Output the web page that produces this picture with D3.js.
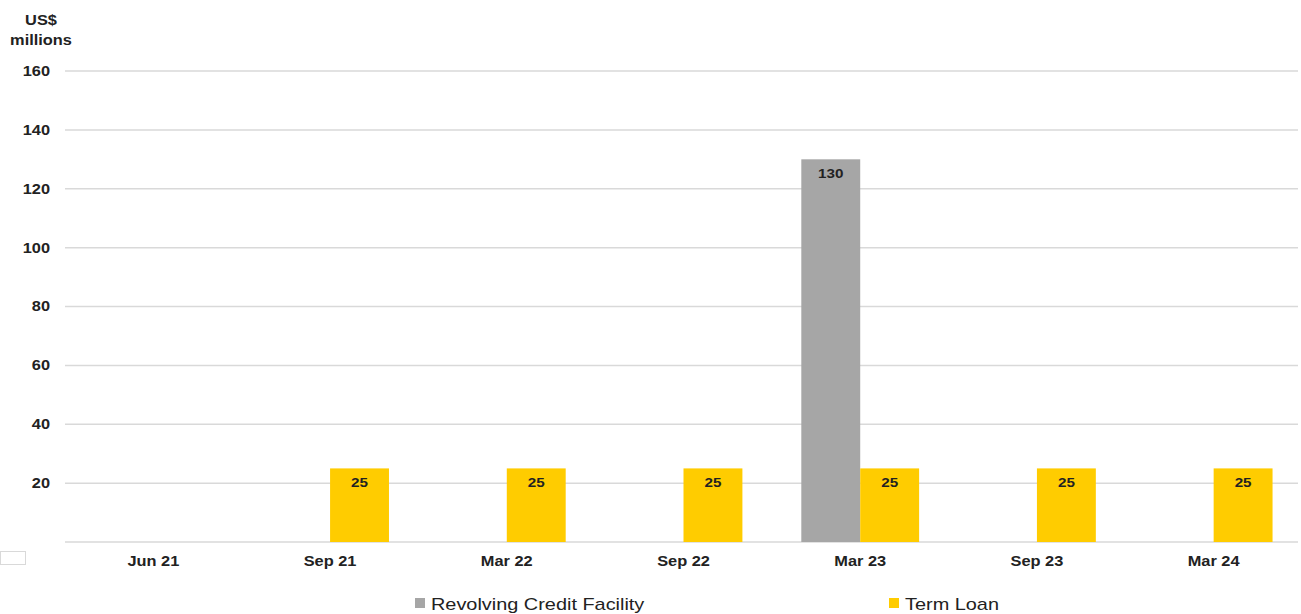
<!DOCTYPE html>
<html><head><meta charset="utf-8">
<script src="https://cdn.jsdelivr.net/npm/d3@7"></script>
<style>
body{margin:0;background:#fff;font-family:"Liberation Sans",Arial,sans-serif;}
</style></head><body>
<svg id="c" width="1301" height="614"></svg>
<script>
const categories = ["Jun 21","Sep 21","Mar 22","Sep 22","Mar 23","Sep 23","Mar 24"];
const seriesNames = ["Revolving Credit Facility","Term Loan"];
const revolving = [0,0,0,0,130,0,0];
const termLoan = [0,25,25,25,25,25,25];
const yTicks = [20,40,60,80,100,120,140,160];
const colors = ["#A6A6A6","#FFCC00"];

const SX = 1.17; // horizontal stretch of text seen in the reference
const svg = d3.select("#c");
const y = d3.scaleLinear().domain([0,160]).range([542,71]);
const x = d3.scaleBand().domain(categories).range([65,1302]);
const bw = x.bandwidth();
const x1 = d3.scaleBand().domain(seriesNames).range([bw/6, bw*5/6]);
const tf = (px,py)=>`translate(${px},${py}) scale(${SX},1)`;

// gridlines
svg.append("g").selectAll("line").data(yTicks.concat([0])).join("line")
  .attr("x1",65).attr("x2",1298)
  .attr("y1",d=>y(d)).attr("y2",d=>y(d))
  .attr("stroke","#D9D9D9").attr("stroke-width",1.5);

// y axis labels
svg.append("g").selectAll("text").data(yTicks).join("text")
  .attr("transform",d=>tf(50,y(d))).attr("dy","0.35em")
  .attr("text-anchor","end").attr("font-size",14).attr("font-weight","bold").attr("fill","#222")
  .text(d=>d);

svg.append("text").attr("transform",tf(41,25)).attr("text-anchor","middle")
  .attr("font-size",14).attr("font-weight","bold").attr("fill","#222").text("US$");
svg.append("text").attr("transform",tf(41,45)).attr("text-anchor","middle")
  .attr("font-size",14).attr("font-weight","bold").attr("fill","#222").text("millions");

// x labels
svg.append("g").selectAll("text").data(categories).join("text")
  .attr("transform",d=>tf(x(d)+bw/2,566)).attr("text-anchor","middle")
  .attr("font-size",14).attr("font-weight","bold").attr("fill","#222").text(d=>d);

const rows = [];
categories.forEach((c,i)=>{
  [revolving[i], termLoan[i]].forEach((v,j)=>{ if(v>0) rows.push({c, s:seriesNames[j], v, j}); });
});

svg.append("g").selectAll("rect").data(rows).join("rect")
  .attr("x",d=>x(d.c)+x1(d.s)).attr("width",x1.bandwidth())
  .attr("y",d=>y(d.v)).attr("height",d=>y(0)-y(d.v))
  .attr("fill",d=>colors[d.j]);

svg.append("g").selectAll("text").data(rows).join("text")
  .attr("transform",d=>tf(x(d.c)+x1(d.s)+x1.bandwidth()/2, y(d.v)+19))
  .attr("text-anchor","middle").attr("font-size",13).attr("font-weight","bold").attr("fill","#222")
  .text(d=>d.v);

// small artifact box
svg.append("rect").attr("x",0.5).attr("y",551.5).attr("width",25).attr("height",13)
  .attr("fill","#fff").attr("stroke","#D9D9D9").attr("stroke-width",1);

// legend
const legX = [415, 889];
seriesNames.forEach((s,i)=>{
  svg.append("rect").attr("x",legX[i]).attr("y",598).attr("width",10).attr("height",10).attr("fill",colors[i]);
  svg.append("text").attr("transform",tf(legX[i]+16,610)).attr("font-size",17).attr("fill","#222").text(s);
});
</script>
</body></html>
